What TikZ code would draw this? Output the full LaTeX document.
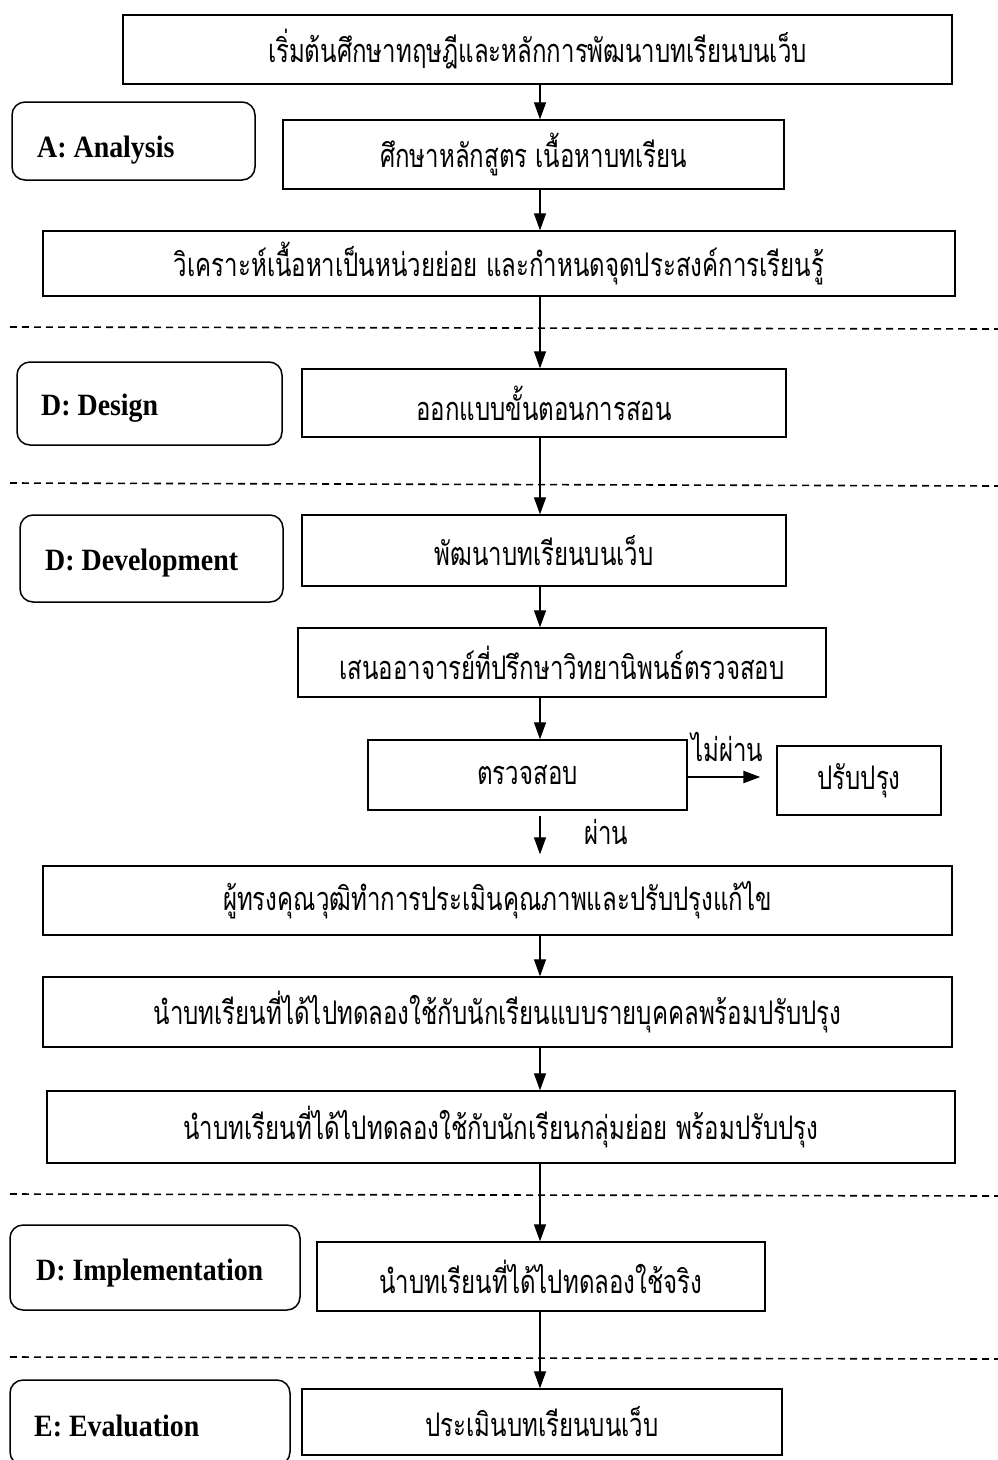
\documentclass[tikz,border=0pt]{standalone}
\usepackage{fontspec}
\setmainfont{Liberation Serif}
\newfontfamily\thai[Script=Thai,FakeStretch=0.74]{Loma}
\newfontfamily\lat[FakeStretch=0.9]{Liberation Serif}
\usetikzlibrary{arrows.meta}
\begin{document}
\begin{tikzpicture}[x=1pt,y=-1pt,
  box/.style={draw, line width=1.3pt, inner sep=0pt, font=\thai\fontsize{32.5}{38}\selectfont},
  phase/.style={draw, line width=1.5pt, rounded corners=13pt, inner sep=0pt},
  phtxt/.style={font=\lat\bfseries\fontsize{31}{36}\selectfont, inner sep=0pt},
  lbl/.style={font=\thai\fontsize{32.5}{38}\selectfont, inner sep=0pt},
  arr/.style={line width=1.2pt, -{Triangle[length=17pt,width=12pt]}},
  sep/.style={line width=1.6pt, dash pattern=on 7pt off 5pt}]
\useasboundingbox (0,0) rectangle (998,1460);
\coordinate (ax) at (540,0);
% main boxes
\node[box, minimum width=829pt, minimum height=69pt] (b1) at (537.5,49.5) {เริ่มต้นศึกษาทฤษฎีและหลักการพัฒนาบทเรียนบนเว็บ};
\node[box, minimum width=501pt, minimum height=69pt] (b2) at (533.5,154.5) {ศึกษาหลักสูตร เนื้อหาบทเรียน};
\node[box, minimum width=912pt, minimum height=65pt] (b3) at (499,263.5) {วิเคราะห์เนื้อหาเป็นหน่วยย่อย และกำหนดจุดประสงค์การเรียนรู้};
\node[box, minimum width=484pt, minimum height=68pt] (b4) at (544,403) {ออกแบบขั้นตอนการสอน};
\node[box, minimum width=484pt, minimum height=71pt] (b5) at (544,550.5) {พัฒนาบทเรียนบนเว็บ};
\node[box, minimum width=528pt, minimum height=69pt] (b6) at (562,662.5) {เสนออาจารย์ที่ปรึกษาวิทยานิพนธ์ตรวจสอบ};
\node[box, minimum width=319pt, minimum height=70pt] (b7) at (527.5,775) {ตรวจสอบ};
\node[box, minimum width=164pt, minimum height=69pt] (b8) at (859,780.5) {ปรับปรุง};
\node[box, minimum width=909pt, minimum height=69pt] (b9) at (497.5,900.5) {ผู้ทรงคุณวุฒิทำการประเมินคุณภาพและปรับปรุงแก้ไข};
\node[box, minimum width=909pt, minimum height=70pt] (b10) at (497.5,1012) {นำบทเรียนที่ได้ไปทดลองใช้กับนักเรียนแบบรายบุคคลพร้อมปรับปรุง};
\node[box, minimum width=908pt, minimum height=72pt] (b11) at (501,1127) {นำบทเรียนที่ได้ไปทดลองใช้กับนักเรียนกลุ่มย่อย พร้อมปรับปรุง};
\node[box, minimum width=448pt, minimum height=69pt] (b12) at (541,1276.5) {นำบทเรียนที่ได้ไปทดลองใช้จริง};
\node[box, minimum width=480pt, minimum height=66pt] (b13) at (542,1422) {ประเมินบทเรียนบนเว็บ};
% phase boxes
\node[phase, minimum width=243pt, minimum height=78pt] (pA) at (133.5,141) {};
\node[phase, minimum width=265pt, minimum height=83pt] (pD1) at (149.5,403.5) {};
\node[phase, minimum width=263pt, minimum height=87pt] (pD2) at (151.5,558.5) {};
\node[phase, minimum width=290pt, minimum height=85pt] (pI) at (155,1267.5) {};
\node[phase, minimum width=280pt, minimum height=85pt] (pE) at (150,1422.5) {};
\node[phtxt, anchor=base west] (tA) at (37,157) {A: Analysis};
\node[phtxt, anchor=base west] (tD1) at (41,415) {D: Design};
\node[phtxt, anchor=base west] (tD2) at (45,570) {D: Development};
\node[phtxt, anchor=base west] (tI) at (36,1280) {D: Implementation};
\node[phtxt, anchor=base west] (tE) at (34,1436) {E: Evaluation};
% separators
\coordinate (s1l) at (10,327); \coordinate (s1r) at (998,329);
\coordinate (s2l) at (10,483); \coordinate (s2r) at (998,486);
\coordinate (s3l) at (10,1194); \coordinate (s3r) at (998,1196);
\coordinate (s4l) at (10,1357); \coordinate (s4r) at (998,1359);
\draw[sep] (s1l) -- (s1r);
\draw[sep] (s2l) -- (s2r);
\draw[sep] (s3l) -- (s3r);
\draw[sep] (s4l) -- (s4r);
% connectors
\draw[arr] (b1.south -| ax) -- (b2.north -| ax);
\draw[arr] (b2.south -| ax) -- (b3.north -| ax);
\draw[arr] (b3.south -| ax) -- (b4.north -| ax);
\draw[arr] (b4.south -| ax) -- (b5.north -| ax);
\draw[arr] (b5.south -| ax) -- (b6.north -| ax);
\draw[arr] (b6.south -| ax) -- (b7.north -| ax);
\draw[arr, shorten <=5pt, shorten >=11pt] (b7.south -| ax) -- (b9.north -| ax);
\draw[arr, line width=2.2pt, shorten >=16pt] (b7.east |- 0,777) coordinate (h1) -- (b8.west |- h1);
\draw[arr] (b9.south -| ax) -- (b10.north -| ax);
\draw[arr] (b10.south -| ax) -- (b11.north -| ax);
\draw[arr] (b11.south -| ax) -- (b12.north -| ax);
\draw[arr] (b12.south -| ax) -- (b13.north -| ax);
% edge labels
\node[lbl, anchor=base west] (lno) at (691,761) {ไม่ผ่าน};
\node[lbl, anchor=base west] (lyes) at (584,844) {ผ่าน};
\end{tikzpicture}
\end{document}
